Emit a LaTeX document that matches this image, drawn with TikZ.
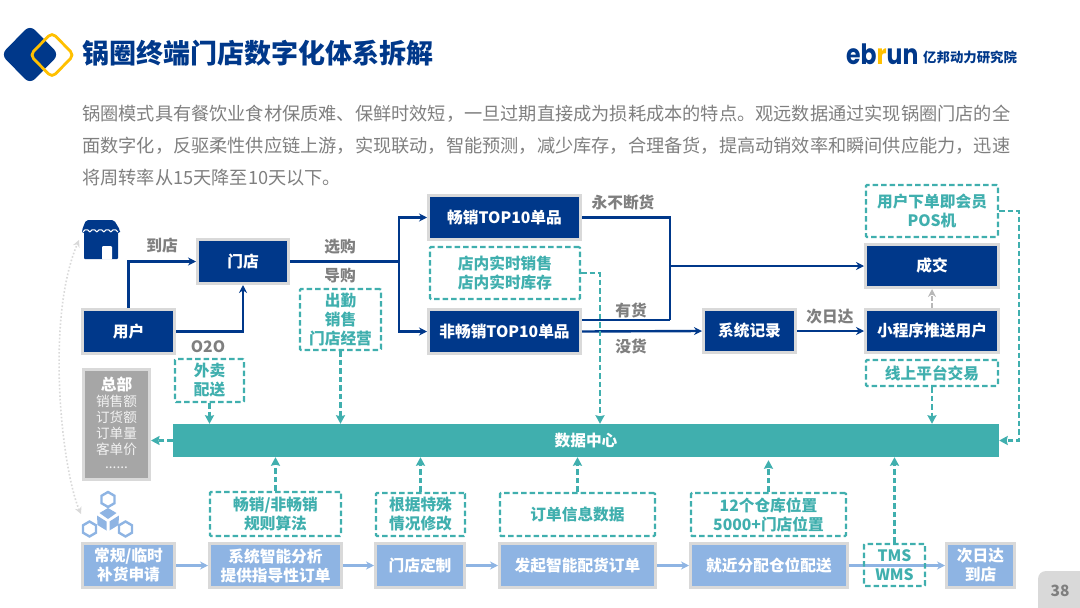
\documentclass[tikz,border=0pt]{standalone}
\usepackage{fontspec}
\setmainfont{Noto Sans CJK SC}
\newfontfamily\logofont{Poppins}
\usetikzlibrary{arrows.meta,calc}
\definecolor{navy}{HTML}{00388A}
\definecolor{teal1}{HTML}{40AFAE}
\definecolor{lblue}{HTML}{8EB4E3}
\definecolor{bord}{HTML}{D9D9D9}
\definecolor{grayt}{HTML}{7F7F7F}
\definecolor{hqgray}{HTML}{A6A6A6}
\definecolor{gold}{HTML}{FFC000}
\tikzset{
  lab/.style={font=\bfseries\fontsize{15.7}{19}\selectfont,align=center,inner sep=0pt},
  navybox/.style={lab,rectangle,fill=navy,draw=bord,line width=3pt,text=white},
  lightbox/.style={lab,rectangle,fill=lblue,draw=bord,line width=3pt,text=white},
  dashbox/.style={lab,rectangle,draw=teal1,line width=2.3pt,dash pattern=on 5.5pt off 3pt,text=teal1,rounded corners=1pt},
  glab/.style={lab,text=grayt},
  para/.style={anchor=west,inner sep=0pt,text=grayt,font=\fontsize{18.2}{22}\selectfont},
  hqtext/.style={inner sep=0pt,text=white!85!hqgray,font=\fontsize{13.6}{16}\selectfont},
  flow/.style={draw=navy,line width=2.4pt,-{Stealth[length=8pt,width=8pt]}},
  flowp/.style={draw=navy,line width=2.4pt},
  tealflow/.style={draw=teal1,line width=2.3pt,dash pattern=on 5.5pt off 3pt,-{Stealth[length=8.5pt,width=9pt,inset=1pt]}},
  lightflow/.style={draw=lblue,line width=2.4pt,-{Stealth[length=8pt,width=8pt]}},
  hexi/.style={draw=lblue,line width=2.4pt,fill=white},
}
\begin{document}
\begin{tikzpicture}[x=1pt,y=-1pt]
\useasboundingbox (0,0) rectangle (1080,608);
% header logo
\fill[navy,rounded corners=7pt] (30,25) -- (59,54.5) -- (30,84) -- (1,54.5) -- cycle;
\draw[gold,line width=2.8pt,rounded corners=5pt] (52,32.5) -- (74,55) -- (52,77.5) -- (30,55) -- cycle;
\node[anchor=west,inner sep=0pt,text=navy,font=\bfseries\fontsize{27}{30}\selectfont] (title) at (82,53) {锅圈终端门店数字化体系拆解};
\node[anchor=west,inner sep=0pt,text=navy,font=\logofont\bfseries\fontsize{28}{30}\selectfont] (ebrun) at (846,54) {\scalebox{0.84}[1]{eb\textcolor{gold}{r}un}};
\node[anchor=west,inner sep=0pt,text=navy,font=\bfseries\fontsize{13.4}{15}\selectfont] (yibang) at (923,57) {亿邦动力研究院};
% paragraph
\node[para] (p1) at (82,114) {锅圈模式具有餐饮业食材保质难、保鲜时效短，一旦过期直接成为损耗成本的特点。观远数据通过实现锅圈门店的全};
\node[para] (p2) at (82,146) {面数字化，反驱柔性供应链上游，实现联动，智能预测，减少库存，合理备货，提高动销效率和瞬间供应能力，迅速};
\node[para] (p3) at (82,178) {将周转率从15天降至10天以下。};
% store icon
\fill[navy,rounded corners=2pt] (86,220) -- (114,220) -- (120,230) -- (120,233) -- (82,233) -- (82,230) -- cycle;
\fill[navy,rounded corners=1pt] (84,231) rectangle (118,259);
\foreach \xx in {83,90,97,104,111}{\draw[white,line width=1pt] (\xx,232) arc[start angle=200,end angle=340,radius=3.7];}
\fill[white,rounded corners=1pt] (102,259.5) -- (102,246) -- (112,246) -- (112,259.5) -- cycle;
\coordinate (storeic) at (79,240);
% hex icon
\foreach \cx/\cy in {108/499.5,89.5/529,125.5/529}{
  \draw[hexi] (\cx,\cy-7.5) -- (\cx+6.5,\cy-3.7) -- (\cx+6.5,\cy+3.7) -- (\cx,\cy+7.5) -- (\cx-6.5,\cy+3.7) -- (\cx-6.5,\cy-3.7) -- cycle;
}
\fill[lblue] (108,508) -- (116.5,513) -- (108,519) -- (99.5,513) -- cycle;
\fill[lblue] (97,515.5) -- (106.5,521.5) -- (106.5,530.5) -- (97.5,525) -- cycle;
\fill[lblue] (119,515.5) -- (109.5,521.5) -- (109.5,530.5) -- (118.5,525) -- cycle;
\coordinate (hexic) at (81,514);
\draw[bord,line width=1.6pt,dotted,{Stealth[length=7pt,width=7pt]}-{Stealth[length=7pt,width=7pt]}] (hexic) .. controls (62,470) and (45,320) .. (storeic);
% main boxes
\node[navybox,minimum width=91pt,minimum height=44pt] (store) at (243,261.5) {门店};
\node[navybox,minimum width=92pt,minimum height=44pt] (user) at (128.5,331.5) {用户};
\node[navybox,minimum width=152pt,minimum height=44pt] (top) at (504.5,217.5) {畅销TOP10单品};
\node[navybox,minimum width=152pt,minimum height=44pt] (nontop) at (504.5,331.5) {非畅销TOP10单品};
\node[navybox,minimum width=92pt,minimum height=43pt] (rec) at (749.5,331) {系统记录};
\node[navybox,minimum width=133pt,minimum height=43pt] (deal) at (932,266) {成交};
\node[navybox,minimum width=133pt,minimum height=43pt] (mini) at (932,331) {小程序推送用户};
% dashed boxes
\node[dashbox,minimum width=132pt,minimum height=52pt] (pos) at (932,211) {用户下单即会员\\POS机};
\node[dashbox,minimum width=150pt,minimum height=52pt] (inst) at (505,273) {店内实时销售\\店内实时库存};
\node[dashbox,minimum width=81pt,minimum height=61pt,font=\bfseries\fontsize{15.7}{18.6}\selectfont] (att) at (340.5,319.5) {出勤\\销售\\门店经营};
\node[dashbox,minimum width=69pt,minimum height=43pt] (take) at (209.5,380.5) {外卖\\配送};
\node[dashbox,minimum width=132pt,minimum height=26pt] (online) at (932,373) {线上平台交易};
% data centre
\node[lab,rectangle,fill=teal1,text=white,minimum width=826pt,minimum height=33pt] (dc) at (586,440.5) {数据中心};
% HQ
\node[rectangle,fill=hqgray,draw=bord,line width=3pt,minimum width=66pt,minimum height=110pt,inner sep=0pt] (hq) at (116.5,424.5) {};
\node[lab,text=white] (hqt) at (116.5,384) {总部};
\node[hqtext] (hqa) at (116.5,401) {销售额};
\node[hqtext] (hqb) at (116.5,417) {订货额};
\node[hqtext] (hqc) at (116.5,433) {订单量};
\node[hqtext] (hqd) at (116.5,449) {客单价};
\node[hqtext] (hqe) at (116.5,468) {......};
% lower dashed
\node[dashbox,minimum width=131pt,minimum height=44pt] (algo) at (275.5,514) {畅销/非畅销\\规则算法};
\node[dashbox,minimum width=89pt,minimum height=43pt] (spec) at (420.5,514.5) {根据特殊\\情况修改};
\node[dashbox,minimum width=155pt,minimum height=43pt] (ord) at (577.5,514.5) {订单信息数据};
\node[dashbox,minimum width=155pt,minimum height=43pt] (loc) at (768.5,514.5) {12个仓库位置\\5000+门店位置};
% lower boxes
\node[lightbox,minimum width=92pt,minimum height=44pt] (l1) at (128.5,565.5) {常规/临时\\补货申请};
\node[lightbox,minimum width=132pt,minimum height=44pt] (l2) at (275.5,565.5) {系统智能分析\\提供指导性订单};
\node[lightbox,minimum width=89pt,minimum height=44pt] (l3) at (420,565.5) {门店定制};
\node[lightbox,minimum width=156pt,minimum height=44pt] (l4) at (577.5,565.5) {发起智能配货订单};
\node[lightbox,minimum width=157pt,minimum height=44pt] (l5) at (769,565.5) {就近分配仓位配送};
\node[lightbox,minimum width=68pt,minimum height=44pt] (l6) at (980.5,565.5) {次日达\\到店};
% lower arrows
\draw[lightflow] (l1) -- (l2);
\draw[lightflow] (l2) -- (l3);
\draw[lightflow] (l3) -- (l4);
\draw[lightflow] (l4) -- (l5);
\draw[lightflow] (l5) -- (l6);
\node[dashbox,minimum width=61pt,minimum height=42pt,font=\bfseries\fontsize{15.7}{19}\selectfont] (tms) at (894.5,565) {TMS\\WMS};
% navy connectors
\draw[flow] (user.north) |- (store.west);
\draw[flow] (user.east) -| (store.south);
\coordinate (split) at (399,261.5);
\draw[flowp] (store.east) -- (split);
\draw[flow] (split) |- (top.west);
\draw[flow] (split) |- (nontop.west);
\coordinate (join) at (670,266);
\coordinate (joinlow) at (670,320);
\draw[flowp] (top.east) -| (joinlow);
\draw[flowp] (nontop.east |- joinlow) -- (joinlow);
\draw[flow] (join) -- (deal.west);
\draw[flow] (nontop.east) -- (rec.west);
\draw[flow] (rec.east) -- (mini.west);
\draw[draw=bord!85!black,line width=2.3pt,dash pattern=on 5pt off 2pt,-{Stealth[length=8pt,width=8pt]}] (mini.north) -- (deal.south);
% teal connectors
\draw[tealflow] (take.south) -- (take.south |- dc.north);
\draw[tealflow] (att.south) -- (att.south |- dc.north);
\coordinate (instc) at (600,273);
\draw[tealflow] (inst.east) -- (instc) -- (instc |- dc.north);
\draw[tealflow] (online.south) -- (online.south |- dc.north);
\coordinate (posc) at (1019,211);
\draw[tealflow] (pos.east) -- (posc) |- (dc.east);
\draw[tealflow] (dc.west) -- (dc.west -| hq.east);
\draw[tealflow] (algo.north) -- (algo.north |- dc.south);
\draw[tealflow] (spec.north) -- (spec.north |- dc.south);
\draw[tealflow] (ord.north) -- (ord.north |- dc.south);
\draw[tealflow] (loc.north) -- ($(loc.north |- dc.south)+(0,3)$);
\draw[tealflow] (tms.north) -- (tms.north |- dc.south);
% grey labels
\node[glab] (la) at (162,246) {到店};
\node[glab] (lb) at (340,247) {选购};
\node[glab] (lc) at (340,276) {导购};
\node[glab] (ld) at (623,203) {永不断货};
\node[glab] (le) at (631,310) {有货};
\node[glab] (lf) at (631,346) {没货};
\node[glab] (lg) at (830,317) {次日达};
\node[glab] (lh) at (208,347) {O2O};
% page tab
\fill[bord,rounded corners=8pt] (1038,620) -- (1038,571) -- (1095,571) -- (1095,620) -- cycle;
\node[inner sep=0pt,text=grayt,font=\bfseries\fontsize{15.5}{18}\selectfont] (pg) at (1060,591) {38};
\end{tikzpicture}
\end{document}
